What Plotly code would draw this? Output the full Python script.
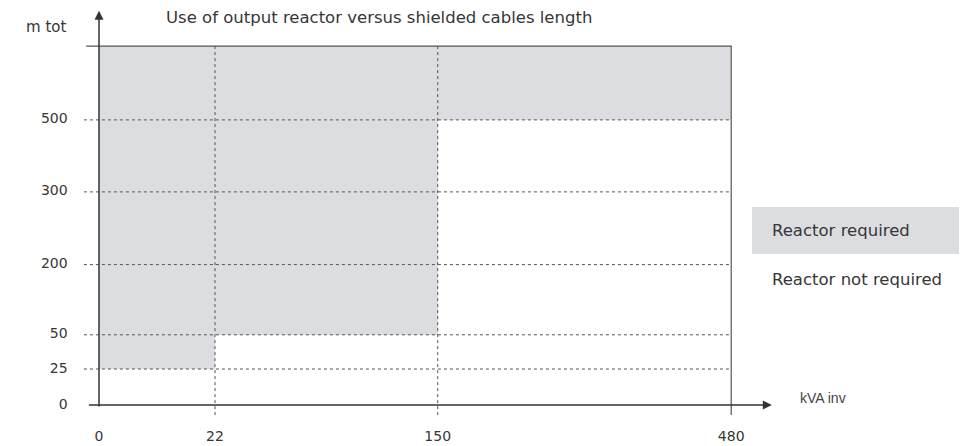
import plotly.graph_objects as go

# Schematic chart: positions are spacing on the drawing, labels are the real values
x_labels = ["0", "22", "150", "480"]
x_pos = [0, 1, 2.92, 5.45]

y_labels = ["0", "25", "50", "200", "300", "500"]
y_pos = [0, 1, 1.95, 3.9, 5.92, 7.92]
y_top = 9.97

# minimum cable length (m tot) above which the reactor is required, per kVA band
required_from = ["25", "50", "500"]

legend_labels = ["Reactor required", "Reactor not required"]
title_text = "Use of output reactor versus shielded cables length"

GREY_FILL = "#dcdde0"
LINE = "#555555"
TEXT = "#363636"
FONT = "DejaVu Sans"

# the page body adds an 8px margin, so the figure is a bit smaller than the window
OFF = 8
W, H = 975 - OFF, 446 - OFF
X0_PX, UX = 99 - OFF, 116   # pixel of x position 0, pixels per unit
Y0_PX, UY = 405 - OFF, 36   # pixel of y position 0 (from top), pixels per unit


def px(x):
    return (x - OFF) / W


def py(y):
    return 1 - (y - OFF) / H


ypos_of = dict(zip(y_labels, y_pos))

fig = go.Figure()

# shaded "reactor required" areas
bases = [ypos_of[v] for v in required_from]
fig.add_trace(go.Bar(
    x=[(x_pos[i] + x_pos[i + 1]) / 2 for i in range(3)],
    width=[x_pos[i + 1] - x_pos[i] for i in range(3)],
    base=bases,
    y=[y_top - b for b in bases],
    marker=dict(color=GREY_FILL, line=dict(width=0)),
    hoverinfo="skip",
    showlegend=False,
))

# horizontal dotted guides
gx, gy = [], []
for yp in y_pos[1:]:
    gx += [-0.13, x_pos[-1], None]
    gy += [yp, yp, None]
fig.add_trace(go.Scatter(x=gx, y=gy, mode="lines", line=dict(color=LINE, width=1, dash="dot"),
                         hoverinfo="skip", showlegend=False))

# vertical dotted guides
vx, vy = [], []
for xp in x_pos[1:-1]:
    vx += [xp, xp, None]
    vy += [-0.28, y_top, None]
fig.add_trace(go.Scatter(x=vx, y=vy, mode="lines", line=dict(color=LINE, width=1, dash="dot"),
                         hoverinfo="skip", showlegend=False))

# solid border: top line and right edge at 480
fig.add_trace(go.Scatter(
    x=[-0.11, x_pos[-1], x_pos[-1]],
    y=[y_top, y_top, -0.28],
    mode="lines", line=dict(color=LINE, width=1.2),
    hoverinfo="skip", showlegend=False,
))

# tick labels
fig.add_trace(go.Scatter(
    x=[-0.27] * len(y_pos), y=y_pos, text=y_labels, mode="text",
    textposition="middle left", textfont=dict(family=FONT, size=14, color=TEXT),
    hoverinfo="skip", showlegend=False,
))
fig.add_trace(go.Scatter(
    x=x_pos, y=[-0.89] * len(x_pos), text=x_labels, mode="text",
    textposition="middle center", textfont=dict(family=FONT, size=14, color=TEXT),
    hoverinfo="skip", showlegend=False,
))

# axes with arrows
fig.add_annotation(x=0, y=10.95, ax=0, ay=-0.08, xref="x", yref="y", axref="x", ayref="y",
                   showarrow=True, arrowhead=2, arrowsize=1.2, arrowwidth=1.5, arrowcolor="#333", text="")
fig.add_annotation(x=5.8, y=0, ax=-0.1, ay=0, xref="x", yref="y", axref="x", ayref="y",
                   showarrow=True, arrowhead=2, arrowsize=1.2, arrowwidth=1.5, arrowcolor="#333", text="")

# axis names
fig.add_annotation(x=-0.27, y=10.5, xref="x", yref="y", text="m tot", showarrow=False,
                   xanchor="right", font=dict(family=FONT, size=15, color=TEXT))
fig.add_annotation(x=6.03, y=0.2, xref="x", yref="y", text="kVA inv", showarrow=False,
                   xanchor="left", font=dict(family="Liberation Sans", size=14, color="#444"))

# legend
fig.add_shape(type="rect", xref="paper", yref="paper",
              x0=px(752), x1=px(959), y0=py(254), y1=py(207),
              fillcolor=GREY_FILL, line=dict(width=0), layer="below")
for lbl, yy in zip(legend_labels, [230, 279]):
    fig.add_annotation(x=px(770), y=py(yy), xref="paper", yref="paper", text=lbl,
                       showarrow=False, xanchor="left", yanchor="middle",
                       font=dict(family=FONT, size=16.5, color=TEXT))

fig.update_layout(
    width=W, height=H,
    margin=dict(l=0, r=0, t=0, b=0),
    paper_bgcolor="white", plot_bgcolor="white",
    title=dict(text=title_text, x=px(166), xanchor="left", y=py(17), yanchor="middle",
               font=dict(family=FONT, size=16.5, color=TEXT)),
    xaxis=dict(range=[-X0_PX / UX, (W - X0_PX) / UX], visible=False, fixedrange=True),
    yaxis=dict(range=[-(H - Y0_PX) / UY, Y0_PX / UY], visible=False, fixedrange=True),
    bargap=0,
)

fig.write_html("out.html")
